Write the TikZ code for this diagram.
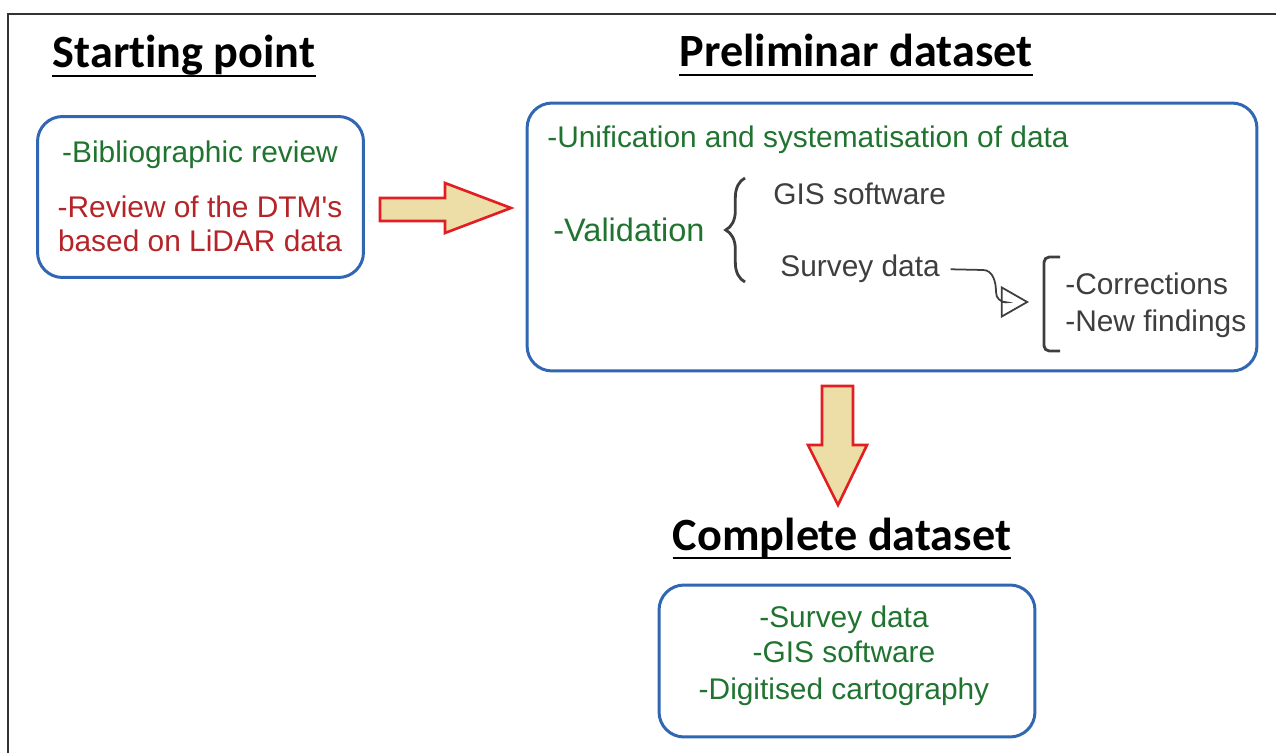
\documentclass[tikz,border=0pt]{standalone}
\usepackage{fontspec}
\setmainfont{Liberation Sans}
\newfontfamily\headfont[Ligatures=NoCommon]{Carlito}
\usepackage{tikz}
\usetikzlibrary{arrows.meta,decorations.pathreplacing}

\definecolor{boxblue}{RGB}{48,102,178}
\definecolor{txtgreen}{RGB}{32,116,48}
\definecolor{txtred}{RGB}{180,36,40}
\definecolor{txtgray}{RGB}{62,62,62}
\definecolor{arrowfill}{RGB}{236,222,166}
\definecolor{arrowred}{RGB}{226,30,34}

\begin{document}
\begin{tikzpicture}[x=0.02cm, y=-0.02cm,
                box node/.style={draw=boxblue, line width=1.7pt, rounded corners=0.5cm, inner sep=0pt},
                head node/.style={font=\headfont\bfseries\fontsize{26.3}{31}\selectfont, inner sep=0pt, anchor=base},
                txt node/.style={font=\fontsize{17}{20}\selectfont, inner sep=0pt, anchor=base west},
                fat arrow/.style={draw=arrowred, line width=1.5pt, fill=arrowfill},
                gray line/.style={draw=txtgray, line width=1.6pt}]

            \useasboundingbox (0,0) rectangle (1276,753);
            \draw[line width=1.1pt, black!80] (8,753) -- (8,14) -- (1276,14);

            % Headings
            \node[head node] (t1) at (184,68) {Starting point};
            \node[head node] (t2) at (856,67) {Preliminar dataset};
            \node[head node] (t3) at (842,550) {Complete dataset};
            \foreach \t in {t1,t2,t3}
                \draw[line width=1.4pt] ([yshift=-4.5pt]\t.base west) -- ([yshift=-4.5pt]\t.base east);

            % Boxes
            \node[box node, minimum width=6.52cm, minimum height=3.22cm] (1) at (200.5,197) {};
            \node[box node, minimum width=14.6cm, minimum height=5.36cm] (2) at (892,237) {};
            \node[box node, minimum width=7.52cm, minimum height=3.04cm] (3) at (847,661) {};

            % Texts of the first box
            \node[txt node, anchor=base, text=txtgreen] (a) at (200,163) {-Bibliographic review};
            \node[txt node, anchor=base, text=txtred] (b) at (200,218) {-Review of the DTM\textquotesingle s};
            \node[txt node, anchor=base, text=txtred] (c) at (200,252) {based on LiDAR data};

            % Texts of the second box
            \node[txt node, text=txtgreen] (u) at (547,148) {-Unification and systematisation of data};
            \node[txt node, text=txtgreen, font=\fontsize{18.5}{22}\selectfont] (v) at (553,242) {-Validation};
            \node[txt node, text=txtgray] (g) at (773,205) {GIS software};
            \node[txt node, text=txtgray] (sd) at (780,277) {Survey data};
            \node[txt node, text=txtgray] (co) at (1065,295) {-Corrections};
            \node[txt node, text=txtgray] (nf) at (1065,332) {-New findings};
            \coordinate (tri) at (1029,302);

            \draw[gray line, decorate, decoration={brace, amplitude=11pt}] (745,282) -- (745,178);
            \draw[gray line, rounded corners=3pt] (1060,257) -- (1044,257) -- (1044,351) -- (1060,351);
            \draw[txtgray, line width=1pt, -{Triangle[open, length=16pt, width=18pt, line width=1pt]}]
            ([xshift=6pt]sd.east) -- (983,270) to[out=0, in=90] (996,292) to[out=-90, in=180] (tri);

            % Texts of the third box
            \node[txt node, anchor=base, text=txtgreen] (s1) at (844,627) {-Survey data};
            \node[txt node, anchor=base, text=txtgreen] (s2) at (844,663) {-GIS software};
            \node[txt node, anchor=base, text=txtgreen] (s3) at (844,699) {-Digitised cartography};

            % Arrows
            \draw[fat arrow] (380,198) -- (445,198) -- (445,183) -- (511,208) -- (445,233) -- (445,221) -- (380,221) -- cycle;
            \draw[fat arrow] (822,386) -- (853,386) -- (853,445) -- (867,445) -- (838,505) -- (808,445) -- (822,445) -- cycle;

        \end{tikzpicture}
\end{document}
